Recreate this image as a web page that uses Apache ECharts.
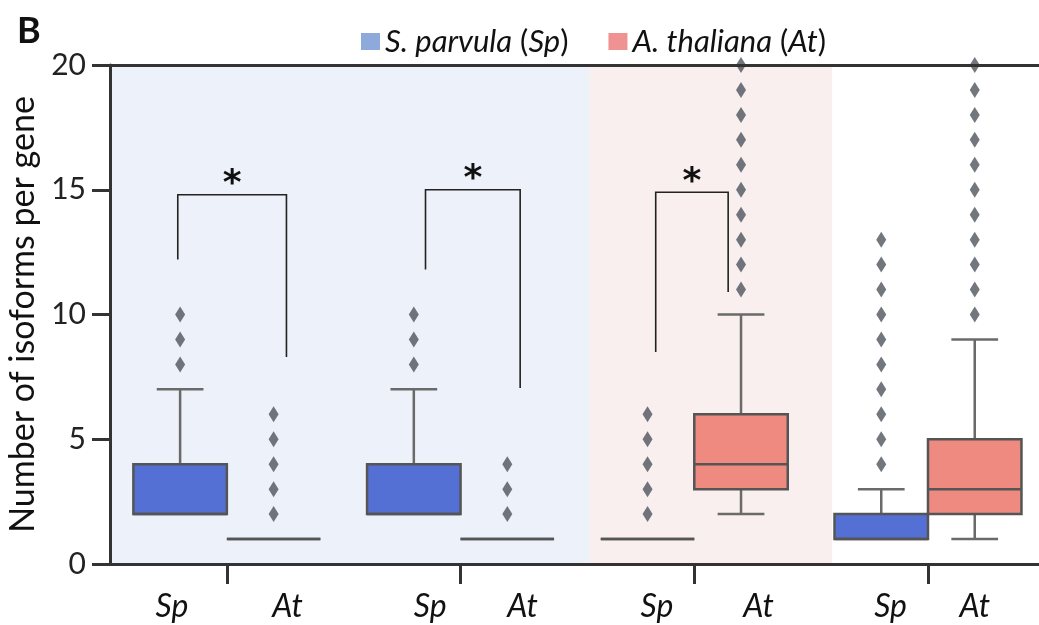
<!DOCTYPE html>
<html><head><meta charset="utf-8">
<script src="https://cdn.jsdelivr.net/npm/echarts@6/dist/echarts.min.js"></script>
<style>html,body{margin:0;padding:0;background:#fff}#c{width:1039px;height:625px}</style>
</head><body><div id="c"></div>
<script>
// ---------------- DATA ----------------
const speciesNames = ['S. parvula', 'A. thaliana'];
const speciesAbbr = ['Sp', 'At'];
const groupCount = 4;
// box stats per group: [min, q1, median, q3, max]
const spBoxes = [[2, 2, 2, 4, 7], [2, 2, 2, 4, 7], [1, 1, 1, 1, 1], [1, 1, 1, 2, 3]];
const atBoxes = [[1, 1, 1, 1, 1], [1, 1, 1, 1, 1], [2, 3, 4, 6, 10], [1, 2, 3, 5, 9]];
const spOutliers = [[8, 9, 10], [8, 9, 10], [2, 3, 4, 5, 6], [4, 5, 6, 7, 8, 9, 10, 11, 12, 13]];
const atOutliers = [[2, 3, 4, 5, 6], [2, 3, 4], [11, 12, 13, 14, 15, 16, 17, 18, 19, 20], [10, 11, 12, 13, 14, 15, 16, 17, 18, 19, 20]];
const yTicks = [0, 5, 10, 15, 20];
const yTitle = 'Number of isoforms per gene';
// significance brackets: [group, top, left leg end, right leg end]
const sigBrackets = [[0, 14.8, 12.2, 8.3], [1, 15.0, 11.8, 7.05], [2, 14.9, 8.5, 10.9]];
const sigMark = '*';
const panelLetter = 'B';

// ---------------- LAYOUT / STYLE ----------------
const FONT = 'Lato, "Open Sans", sans-serif';
const groupCenter = i => 2 * i + 1;
const BOX_OFF = 0.4, BOX_W = 0.8, CAP_W = 0.4;
const spLabelOff = [-0.47, -0.26, -0.32, -0.32];
const atLabelOff = [0.52, 0.53, 0.55, 0.40];
const bracketLegOff = [[-0.42, 0.51], [-0.30, 0.51], [-0.33, 0.29]];
const bandBlue = [0, 4.1], bandPink = [4.1, 6.18];
const spFill = '#5470d4', atFill = '#ee8a80';
const spLegend = '#8eaadb', atLegend = '#f09292';
const outColor = '#4f545d';

const labelPos = [], labelText = [];
for (let i = 0; i < groupCount; i++) {
  labelPos.push(groupCenter(i) + spLabelOff[i]); labelText.push(speciesAbbr[0]);
  labelPos.push(groupCenter(i) + atLabelOff[i]); labelText.push(speciesAbbr[1]);
}
const tickPos = [];
for (let i = 0; i < groupCount; i++) tickPos.push(groupCenter(i));

function boxData(boxes, sign) {
  return boxes.map((b, i) => [groupCenter(i) + sign * BOX_OFF].concat(b));
}
function outlierData(outs, sign) {
  const d = [];
  outs.forEach((arr, i) => arr.forEach(v => d.push([groupCenter(i) + sign * BOX_OFF, v])));
  return d;
}

function boxRender(fill) {
  return function (params, api) {
    const x = api.value(0), mn = api.value(1), q1 = api.value(2), md = api.value(3), q3 = api.value(4), mx = api.value(5);
    const tl = api.coord([x - BOX_W / 2, q3]), br = api.coord([x + BOX_W / 2, q1]);
    const cx = api.coord([x, 0])[0];
    const capL = api.coord([x - CAP_W / 2, 0])[0], capR = api.coord([x + CAP_W / 2, 0])[0];
    const yv = v => api.coord([x, v])[1];
    const wStyle = { stroke: '#6a6a6a', lineWidth: 2.5 };
    const ch = [];
    if (mx > q3) {
      ch.push({ type: 'line', shape: { x1: cx, y1: yv(q3), x2: cx, y2: yv(mx) }, style: wStyle });
      ch.push({ type: 'line', shape: { x1: capL, y1: yv(mx), x2: capR, y2: yv(mx) }, style: wStyle });
    }
    if (mn < q1) {
      ch.push({ type: 'line', shape: { x1: cx, y1: yv(q1), x2: cx, y2: yv(mn) }, style: wStyle });
      ch.push({ type: 'line', shape: { x1: capL, y1: yv(mn), x2: capR, y2: yv(mn) }, style: wStyle });
    }
    ch.push({ type: 'rect', shape: { x: tl[0], y: tl[1], width: br[0] - tl[0], height: br[1] - tl[1] },
      style: { fill: fill, stroke: '#555', lineWidth: 2.5 } });
    ch.push({ type: 'line', shape: { x1: tl[0], y1: yv(md), x2: br[0], y2: yv(md) }, style: { stroke: '#555', lineWidth: 2.5 } });
    return { type: 'group', children: ch };
  };
}

function bracketRender(params, api) {
  const g = api.value(0), top = api.value(1), le = api.value(2), re = api.value(3);
  const c = groupCenter(g);
  const xl = c + bracketLegOff[g][0], xr = c + bracketLegOff[g][1];
  const p1 = api.coord([xl, le]), p2 = api.coord([xl, top]), p3 = api.coord([xr, top]), p4 = api.coord([xr, re]);
  return { type: 'group', children: [
    { type: 'polyline', shape: { points: [p1, p2, p3, p4] }, style: { stroke: '#222', lineWidth: 1.6, fill: null } },
    { type: 'text', style: { text: sigMark, x: (p2[0] + p3[0]) / 2, y: p2[1] - 10, align: 'center', verticalAlign: 'middle',
      font: 'bold 36px "DejaVu Sans", sans-serif', fill: '#111' } }
  ] };
}

const chart = echarts.init(document.getElementById('c'));
chart.setOption({
  backgroundColor: '#fff',
  animation: false,
  grid: { left: 110, right: 0, top: 65, bottom: 61, containLabel: false, outerBoundsMode: 'none' },
  legend: {
    data: speciesAbbr, left: 356, top: 21, itemWidth: 19, itemHeight: 17, itemGap: 40, icon: 'rect',
    formatter: n => {
      const i = speciesAbbr.indexOf(n);
      return '{i|' + speciesNames[i] + '} ({i|' + n + '})';
    },
    textStyle: { fontSize: 31, fontFamily: FONT, color: '#111',
      rich: { i: { fontStyle: 'italic', fontSize: 31, fontFamily: FONT, color: '#111' } } }
  },
  graphic: [{ type: 'text', left: 17, top: 13, style: { text: panelLetter, font: 'bold 36px ' + FONT, fill: '#111' } }],
  xAxis: [{
    type: 'value', min: 0, max: 7.95, position: 'bottom', z: 5,
    axisLine: { show: true, lineStyle: { color: '#333', width: 3 } },
    axisTick: { show: true, customValues: tickPos, length: 20, lineStyle: { color: '#333', width: 3 } },
    axisLabel: { customValues: labelPos, showMinLabel: true, showMaxLabel: true,
      formatter: v => { let b = 0; labelPos.forEach((p, k) => { if (Math.abs(p - v) < Math.abs(labelPos[b] - v)) b = k; }); return labelText[b]; },
      fontSize: 32, fontStyle: 'italic', fontFamily: FONT, color: '#111', margin: 27 },
    splitLine: { show: false }
  }, {
    type: 'value', min: 0, max: 7.95, position: 'top', z: 5,
    axisLine: { show: true, onZero: false, lineStyle: { color: '#333', width: 3 } },
    axisTick: { show: false }, axisLabel: { show: false }, splitLine: { show: false }
  }],
  yAxis: {
    type: 'value', min: yTicks[0], max: yTicks[yTicks.length - 1], interval: yTicks[1] - yTicks[0], z: 5,
    name: yTitle, nameLocation: 'middle', nameGap: 66, nameRotate: 90,
    nameTextStyle: { fontSize: 34, fontFamily: FONT, color: '#111' },
    axisLine: { show: true, lineStyle: { color: '#333', width: 3 } },
    axisTick: { show: true, length: 18, lineStyle: { color: '#333', width: 3 } },
    axisLabel: { fontSize: 30, fontFamily: FONT, color: '#222', margin: 24 },
    splitLine: { show: false }
  },
  series: [
    { type: 'scatter', name: 'bands', data: [], z: 0, silent: true,
      markArea: { silent: true, data: [
        [{ xAxis: bandBlue[0], itemStyle: { color: '#edf1f9' } }, { xAxis: bandBlue[1] }],
        [{ xAxis: bandPink[0], itemStyle: { color: '#f8efee' } }, { xAxis: bandPink[1] }]
      ] } },
    { type: 'custom', name: speciesAbbr[0], itemStyle: { color: spLegend }, renderItem: boxRender(spFill),
      data: boxData(spBoxes, -1), encode: { x: 0, y: [1, 2, 3, 4, 5] }, z: 3 },
    { type: 'custom', name: speciesAbbr[1], itemStyle: { color: atLegend }, renderItem: boxRender(atFill),
      data: boxData(atBoxes, 1), encode: { x: 0, y: [1, 2, 3, 4, 5] }, z: 3 },
    { type: 'scatter', name: 'spOut', data: outlierData(spOutliers, -1), symbol: 'diamond', symbolSize: [10, 16],
      itemStyle: { color: outColor }, z: 4 },
    { type: 'scatter', name: 'atOut', data: outlierData(atOutliers, 1), symbol: 'diamond', symbolSize: [10, 16],
      itemStyle: { color: outColor }, z: 4, clip: true },
    { type: 'custom', name: 'sig', renderItem: bracketRender, data: sigBrackets, encode: { x: 0, y: [1, 2, 3] }, z: 4 }
  ]
});
</script></body></html>
